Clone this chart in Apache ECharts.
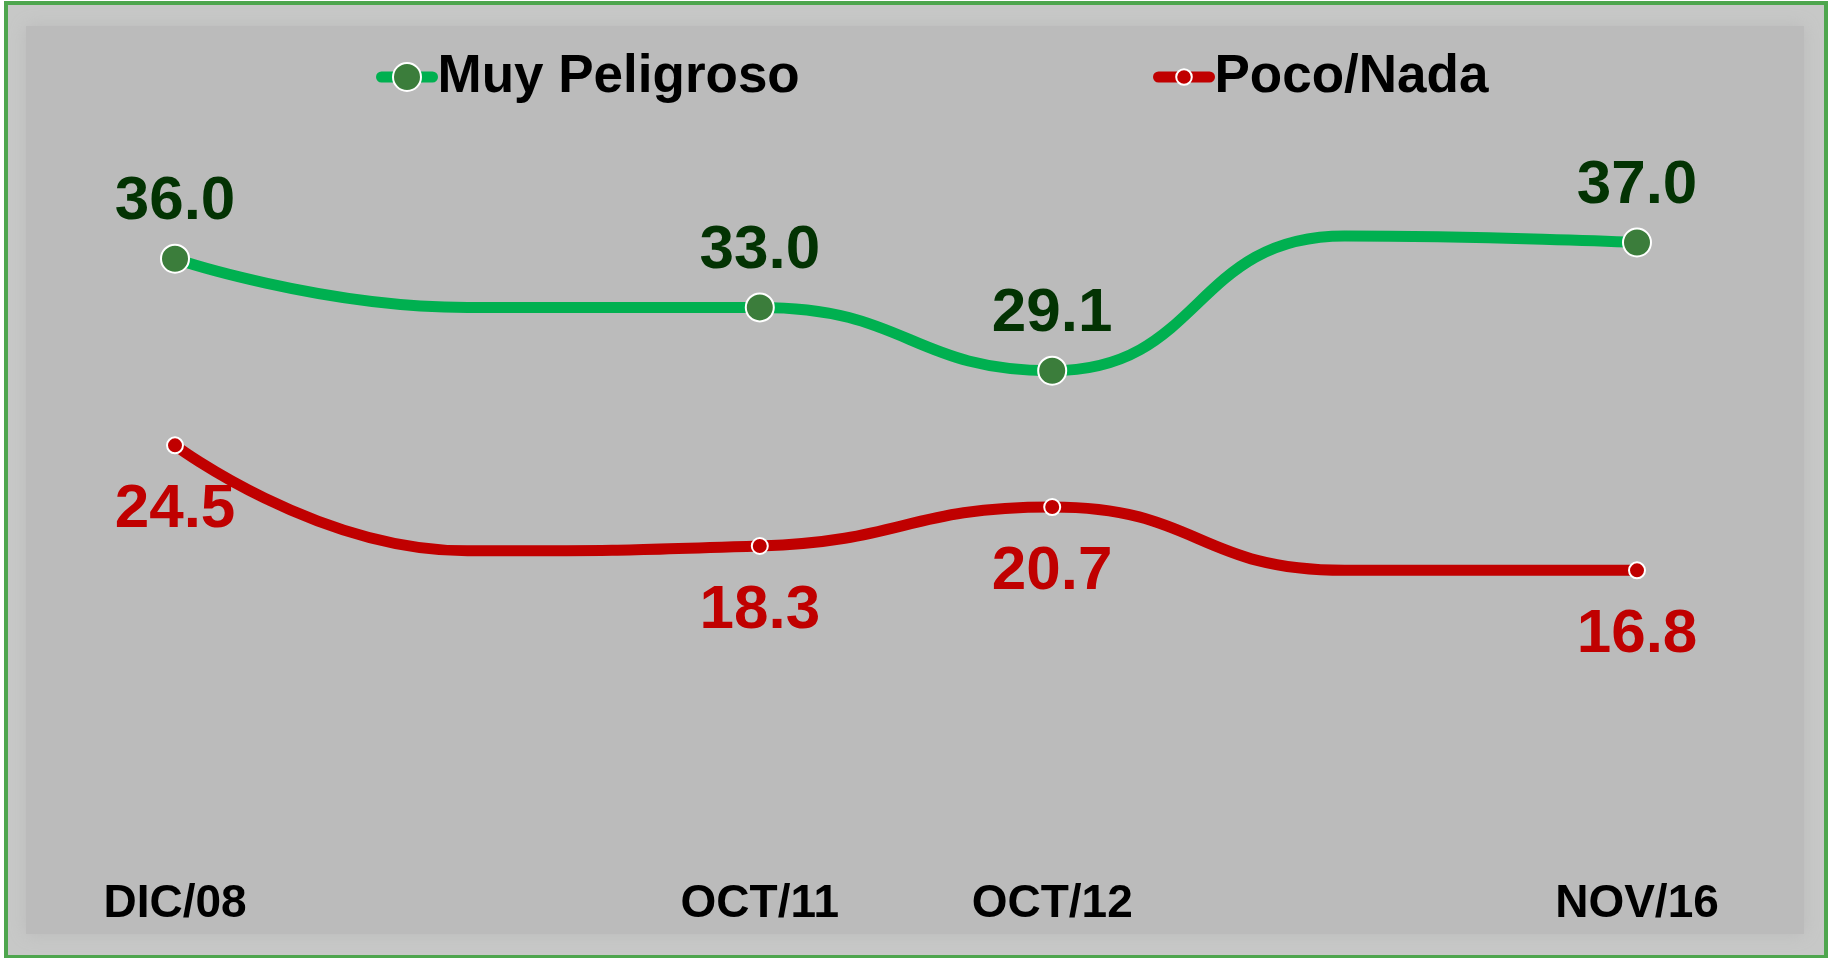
<!DOCTYPE html>
<html>
<head>
<meta charset="utf-8">
<script src="https://cdn.jsdelivr.net/npm/echarts@6/dist/echarts.min.js"></script>
<style>
  html, body { margin: 0; padding: 0; background: #fff; }
  #main { width: 1828px; height: 958px; }
</style>
</head>
<body>
<div id="main"></div>
<script>
// fechas del eje (las vacías no llevan etiqueta ni marcador)
var fechas = ['DIC/08', '', 'OCT/11', 'OCT/12', '', 'NOV/16'];
// valores; en las fechas vacías es la altura por donde pasa la línea
var muyPeligroso = [36.0, 33.0, 33.0, 29.1, 37.4, 37.0];
var pocoNada = [24.5, 18.0, 18.3, 20.7, 16.8, 16.8];
var conMarca = [true, false, true, true, false, true];

var fuente = "'Liberation Sans', Arial, sans-serif";
var myChart = echarts.init(document.getElementById('main'));

function etiqueta(p) {
    return p.value.toFixed(1);
}

function puntos(valores) {
    return valores.map(function (v, i) {
        if (conMarca[i]) {
            return v;
        }
        return { value: v, symbol: 'none', label: { show: false } };
    });
}

option = {
    backgroundColor: '#fff',
    animation: false,
    graphic: [{
        type: 'rect',
        z: -10,
        shape: { x: 6, y: 3, width: 1820, height: 954 },
        style: { fill: '#c7c8c7', stroke: '#4ea64e', lineWidth: 4 }
    }, {
        type: 'rect',
        z: -9,
        shape: { x: 26, y: 26, width: 1778, height: 908 },
        style: { fill: '#bbbbbb', shadowBlur: 16, shadowColor: '#bbbbbb' }
    }],
    legend: [{
        data: ['Muy Peligroso'],
        left: 376,
        top: 50.5,
        padding: 0,
        itemWidth: 51,
        itemHeight: 35,
        selectedMode: false,
        lineStyle: { width: 11, cap: 'round' },
        textStyle: { fontFamily: fuente, fontSize: 53, fontWeight: 'bold', color: '#000' }
    }, {
        data: ['Poco/Nada'],
        left: 1153,
        top: 50.5,
        padding: 0,
        itemWidth: 51,
        itemHeight: 19.5,
        selectedMode: false,
        lineStyle: { width: 11, cap: 'round' },
        textStyle: { fontFamily: fuente, fontSize: 53, fontWeight: 'bold', color: '#000' }
    }],
    grid: {
        left: 175,
        right: 191,
        top: 31.5,
        bottom: 115
    },
    xAxis: {
        type: 'category',
        data: fechas,
        boundaryGap: false,
        axisLine: { show: false },
        axisTick: { show: false },
        splitLine: { show: false },
        axisLabel: {
            interval: 0,
            margin: 38,
            fontFamily: fuente,
            fontSize: 46,
            fontWeight: 'bold',
            color: '#000'
        }
    },
    yAxis: {
        type: 'value',
        min: 0,
        max: 50,
        show: false
    },
    series: [{
        name: 'Muy Peligroso',
        type: 'line',
        data: puntos(muyPeligroso),
        smooth: 0.5,
        symbol: 'circle',
        symbolSize: 28,
        lineStyle: { color: '#00b050', width: 11, cap: 'round' },
        itemStyle: { color: '#3b7d3b', borderColor: '#fff', borderWidth: 2 },
        label: {
            show: true,
            position: 'top',
            distance: 11,
            formatter: etiqueta,
            fontFamily: fuente,
            fontSize: 62,
            fontWeight: 'bold',
            color: '#033303'
        }
    }, {
        name: 'Poco/Nada',
        type: 'line',
        data: puntos(pocoNada),
        smooth: 0.5,
        symbol: 'circle',
        symbolSize: 16,
        lineStyle: { color: '#c00000', width: 11, cap: 'round' },
        itemStyle: { color: '#c00000', borderColor: '#fff', borderWidth: 2 },
        label: {
            show: true,
            position: 'bottom',
            distance: 25,
            formatter: etiqueta,
            fontFamily: fuente,
            fontSize: 62,
            fontWeight: 'bold',
            color: '#c00000'
        }
    }]
};
myChart.setOption(option);
</script>
</body>
</html>
